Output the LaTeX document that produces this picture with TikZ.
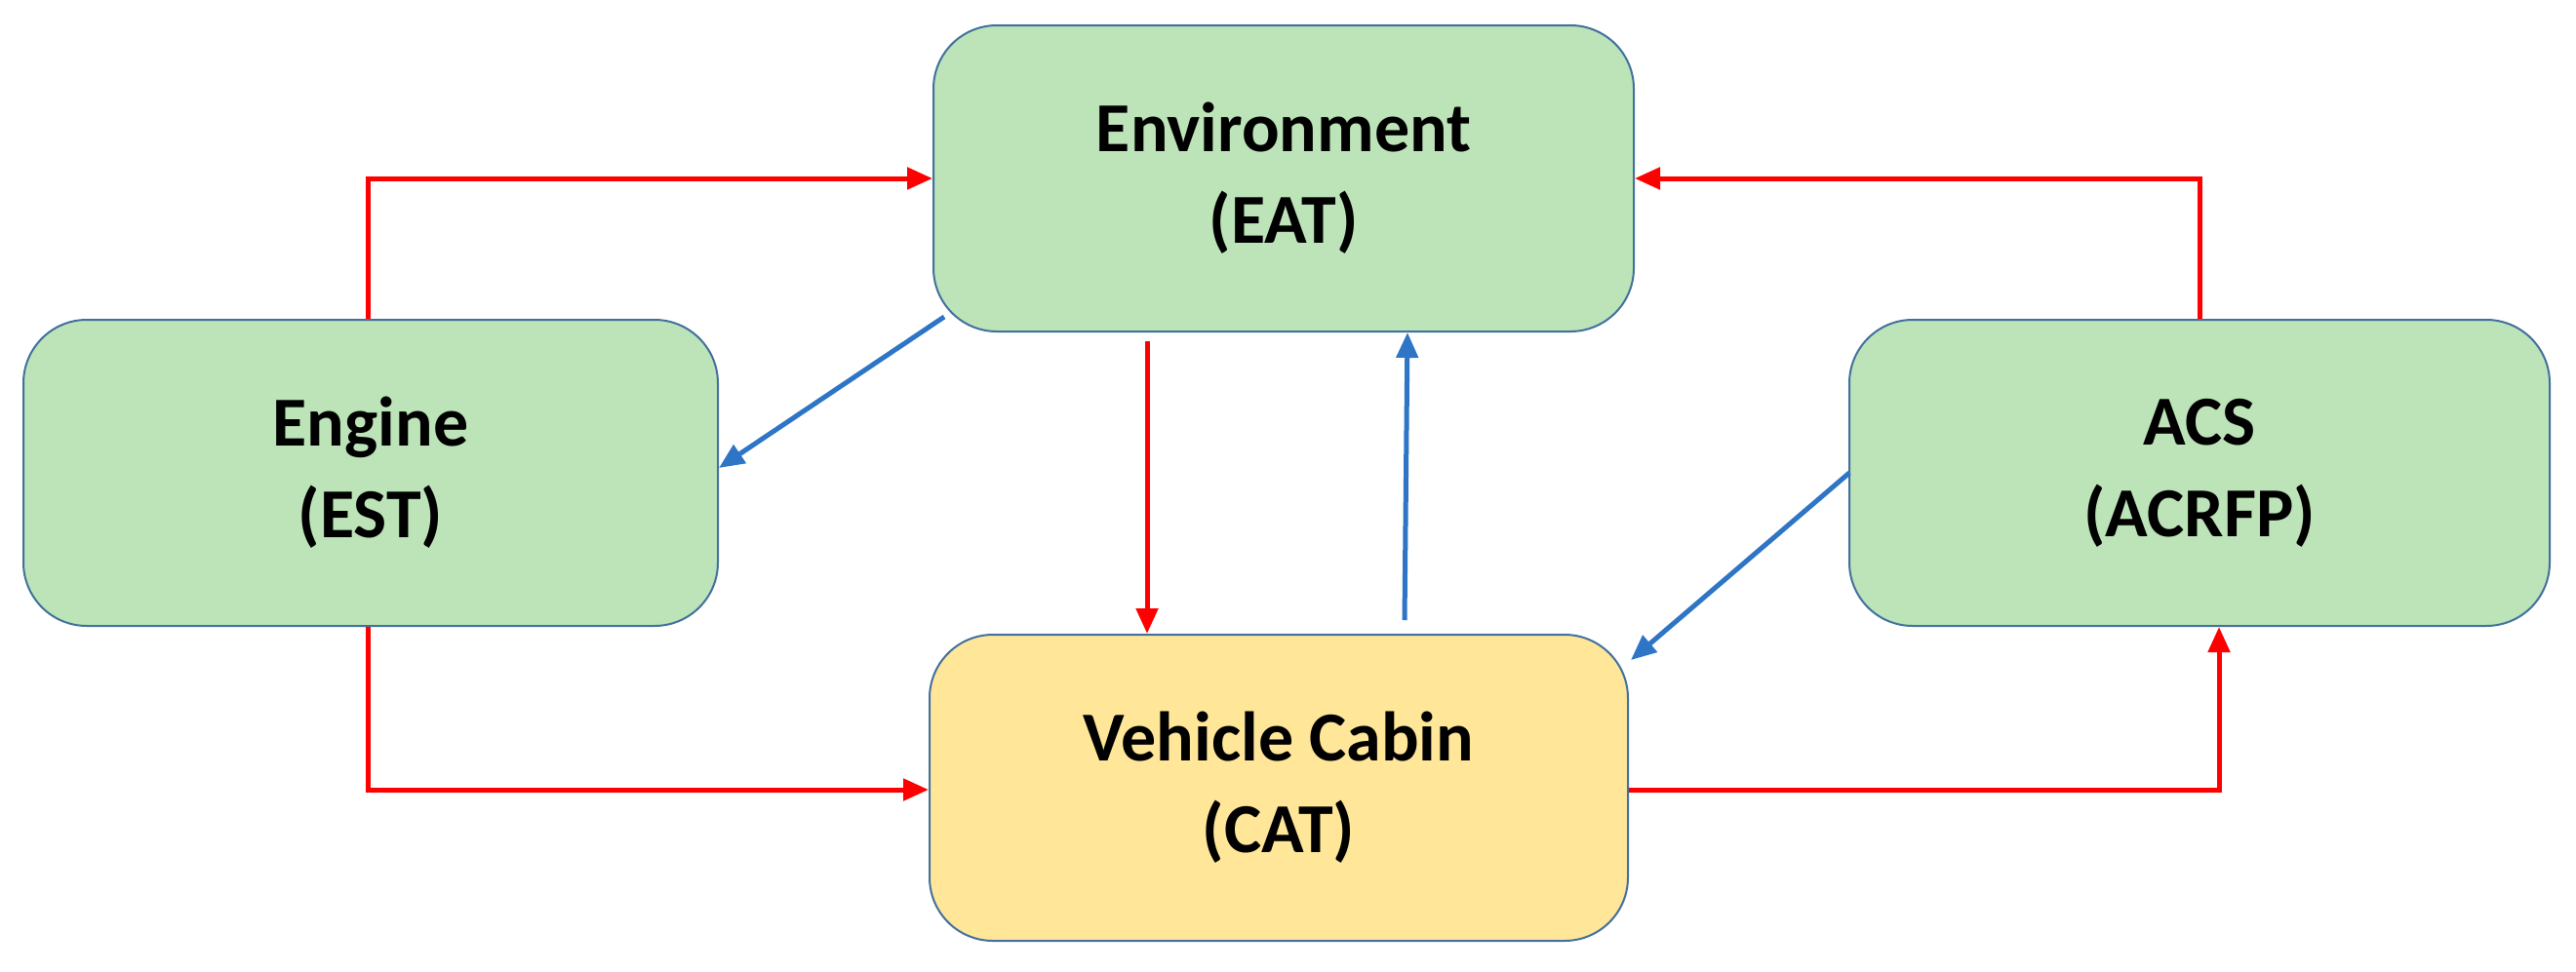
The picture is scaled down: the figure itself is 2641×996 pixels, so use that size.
\documentclass[tikz,border=0pt]{standalone}
\usepackage{fontspec}
\setmainfont{Carlito}
\usetikzlibrary{arrows.meta}
\definecolor{boxg}{HTML}{BDE3B8}
\definecolor{boxy}{HTML}{FFE699}
\definecolor{edge}{HTML}{41719C}
\definecolor{ared}{HTML}{FF0000}
\definecolor{ablue}{HTML}{2E75C6}
\begin{document}
\begin{tikzpicture}[x=1pt,y=-1pt,
  box/.style={draw=edge,line width=2pt,rounded corners=65pt,minimum width=#1,minimum height=314pt,align=center,inner sep=0pt,
    font=\fontsize{72}{94}\selectfont\bfseries},
  box/.default=715pt,
  r/.style={draw=ared,line width=5pt,-{Triangle[length=26pt,width=22pt]}},
  b/.style={draw=ablue,line width=5pt,-{Triangle[length=26pt,width=22pt]}}]
\useasboundingbox (0,0) rectangle (2641,996);
\node[box=718pt,fill=boxg] (env) at (1316,183) {Environment\\(EAT)};
\node[box=712pt,fill=boxg] (eng) at (380,485) {Engine\\(EST)};
\node[box=718pt,fill=boxg] (acs) at (2255,485) {ACS\\(ACRFP)};
\node[box=716pt,fill=boxy] (cab) at (1311,808) {Vehicle Cabin\\(CAT)};
\coordinate (c1) at (377,183);
\coordinate (c2) at (2255,183);
\coordinate (c3) at (377,810);
\coordinate (c4) at (2275,810);
\draw[r] (eng.north -| c1) -- (c1) -- (env.west |- c1);
\draw[r] (acs.north -| c2) -- (c2) -- (env.east |- c2);
\draw[r] (eng.south -| c3) -- (c3) -- (cab.west |- c3);
\draw[r] (cab.east |- c4) -- (c4) -- (acs.south -| c4);
\coordinate (d1) at (1176,350);
\draw[r] (d1) -- (cab.north -| d1);
\coordinate (u1) at (1440,636);
\draw[b] (u1) -- ([xshift=3pt]env.south -| u1);
\coordinate (bl) at (968,325);
\draw[b] (bl) -- (eng.east |- 0,480);
\coordinate (ar) at (1896,485);
\coordinate (ct) at (1672,677);
\draw[b] (ar) -- (ct);
\end{tikzpicture}
\end{document}
